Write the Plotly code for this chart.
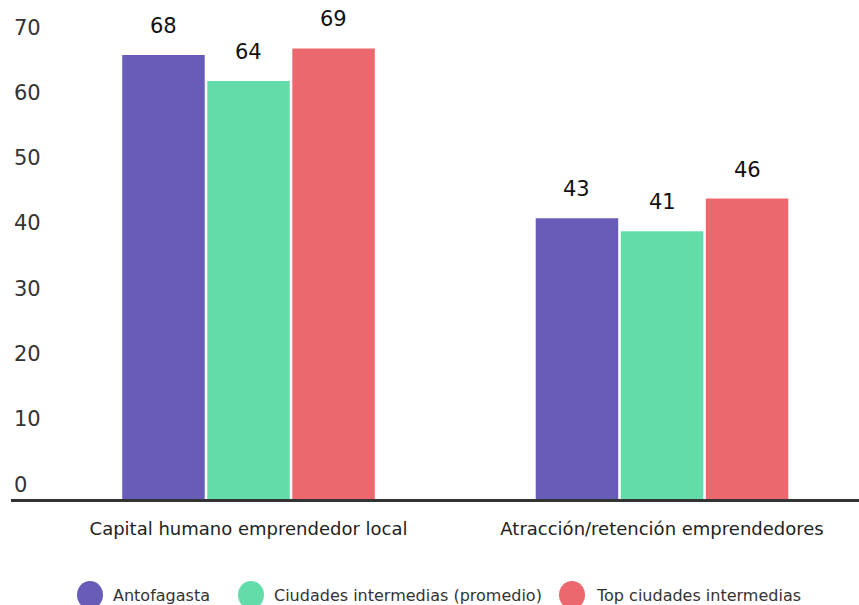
import plotly.graph_objects as go

categories = ["Capital humano emprendedor local", "Atracción/retención emprendedores"]
series_names = ["Antofagasta", "Ciudades intermedias (promedio)", "Top ciudades intermedias"]
antofagasta = [68, 43]
intermedias = [64, 41]
top_intermedias = [69, 46]
y_ticks = [0, 10, 20, 30, 40, 50, 60, 70]

colors = ["#675DB9", "#64DCAA", "#EA686E"]
series_values = [antofagasta, intermedias, top_intermedias]

FONT = "DejaVu Sans"
W, H = 859, 605
ML, MR, MT, MB = 11, 0, 0, 106
PX_PER_UNIT = 6.53

fig = go.Figure()
for name, vals, col in zip(series_names, series_values, colors):
    fig.add_trace(go.Bar(
        x=categories, y=vals, name=name, marker=dict(color=col, line=dict(width=0)),
        showlegend=False,
    ))

# value labels above bars
bargap = 0.383
slot = (1 - bargap) / 3
for j, vals in enumerate(series_values):
    for i, v in enumerate(vals):
        fig.add_annotation(
            x=i + (j - 1) * slot, y=v, xref="x", yref="y", text=str(v),
            showarrow=False, yshift=29,
            font=dict(family=FONT, size=21, color="#111111"),
        )

# custom legend (large circles)
plot_w = W - ML - MR
plot_h = H - MT - MB
def px(x):
    return (x - ML) / plot_w
def py(y):
    return (H - MB - y) / plot_h

legend_circle_x = [90, 251, 572]
legend_text_x = [111, 272, 594]
legend_y = 595
r = 13
for name, col, cx, tx in zip(series_names, colors, legend_circle_x, legend_text_x):
    fig.add_shape(type="circle", xref="paper", yref="paper",
                  x0=px(cx - r), x1=px(cx + r), y0=py(legend_y + r + 1), y1=py(legend_y - r - 1),
                  fillcolor=col, line=dict(width=0))
    fig.add_annotation(xref="paper", yref="paper", x=px(tx), y=py(legend_y),
                       xanchor="left", yanchor="middle", text=name, showarrow=False,
                       font=dict(family=FONT, size=16, color="#333333"))

fig.update_layout(
    width=W, height=H,
    margin=dict(l=ML, r=MR, t=MT, b=MB),
    paper_bgcolor="white", plot_bgcolor="white",
    barmode="group", bargap=bargap, bargroupgap=0.03,
    showlegend=False,
    font=dict(family=FONT),
)
fig.update_xaxes(
    range=[-0.5744, 1.4764],
    showline=True, linecolor="#333333", linewidth=3,
    showgrid=False, ticks="outside", ticklen=11, tickcolor="rgba(0,0,0,0)",
    tickfont=dict(family=FONT, size=18, color="#222222"),
)
fig.update_yaxes(
    range=[0, plot_h / PX_PER_UNIT], tickvals=y_ticks,
    ticklabelposition="inside top", showgrid=False, zeroline=False, showline=False,
    tickfont=dict(family=FONT, size=21, color="#333333"),
)

fig.write_html(
    "out.html",
    config={"displayModeBar": False},
    post_script="document.body.style.margin='0';document.body.style.overflow='hidden';",
)
